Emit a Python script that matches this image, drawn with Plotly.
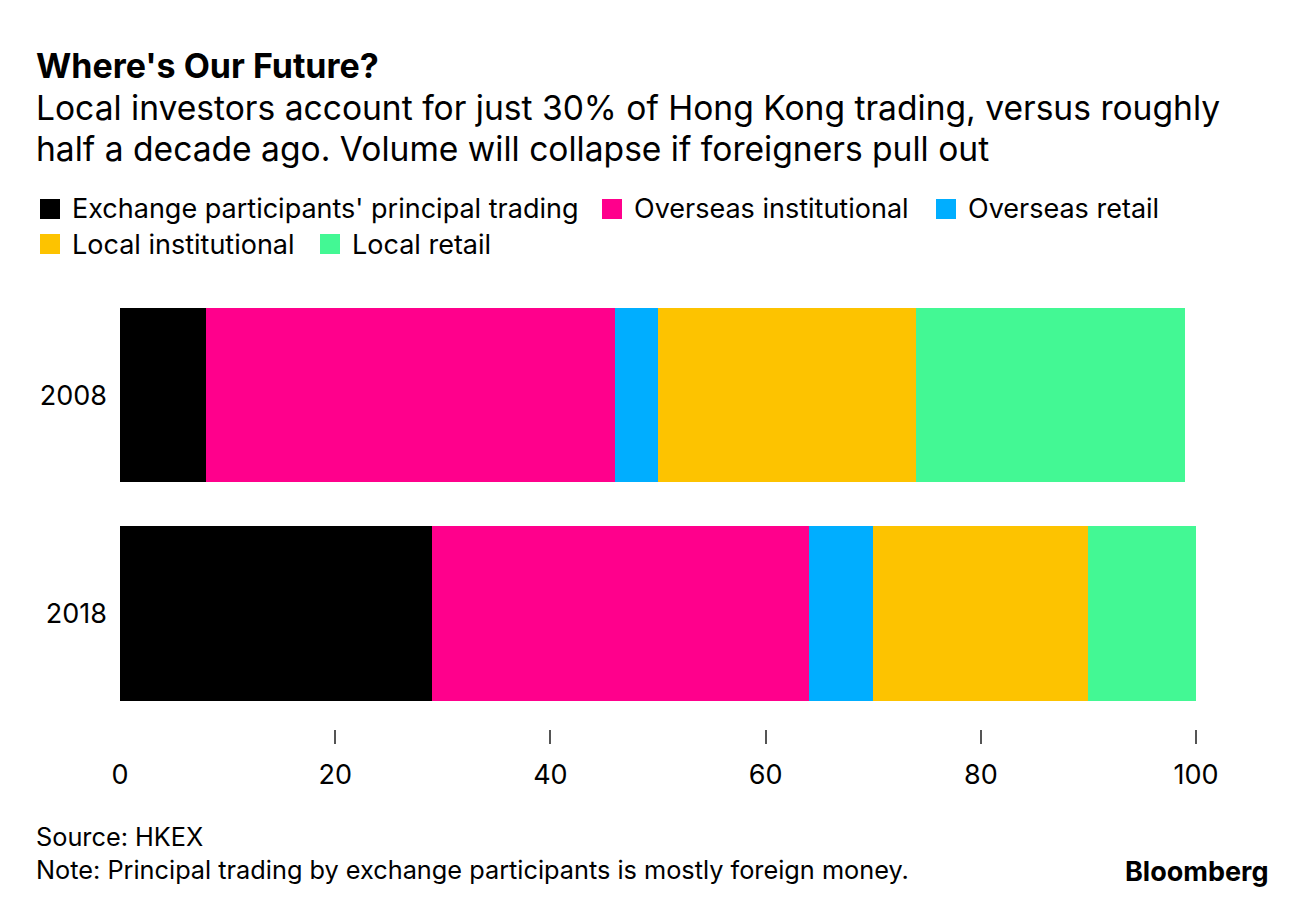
import plotly.graph_objects as go

# Data (share of HKEX turnover, %)
years = ['2008', '2018']
series = [
    'Exchange participants\' principal trading',
    'Overseas institutional',
    'Overseas retail',
    'Local institutional',
    'Local retail',
]
principal = [8, 29]
overseas_inst = [38, 35]
overseas_retail = [4, 6]
local_inst = [24, 20]
local_retail = [25, 10]
values = [principal, overseas_inst, overseas_retail, local_inst, local_retail]

x_ticks = [0, 20, 40, 60, 80, 100]
x_tick_marks = [20, 40, 60, 80, 100]

colors = ['#000000', '#FF008C', '#00AEFF', '#FDC300', '#43F894']
FONT = 'Inter, Liberation Sans, Arial, sans-serif'

# the page body adds an 8px margin, so the figure is 8px smaller and
# positions below are given in screenshot pixels and shifted back
OFF = 8
W, H = 1296 - OFF, 898 - OFF
PLOT_L, PLOT_R, PLOT_T, PLOT_B = 120, 1196, 286, 729
L, R = PLOT_L - OFF, W - (PLOT_R - OFF)
T, B = PLOT_T - OFF, H - (PLOT_B - OFF)
PW, PH = PLOT_R - PLOT_L, PLOT_B - PLOT_T


def px(x):
    return (x - PLOT_L) / PW


def py(y):
    return (PLOT_B - y) / PH


fig = go.Figure()
for name, vals, col in zip(series, values, colors):
    fig.add_trace(go.Bar(
        y=years, x=vals, name=name, orientation='h',
        marker=dict(color=col, line=dict(width=0)),
        showlegend=False,
    ))

annotations = []
shapes = []


def text(x, y, s, size, bold=False, xanchor='left', color='#000000'):
    if bold:
        s = '<b>' + s + '</b>'
    annotations.append(dict(
        x=px(x), y=py(y), xref='paper', yref='paper', text=s,
        showarrow=False, xanchor=xanchor, yanchor='middle', align=xanchor,
        font=dict(family=FONT, size=size, color=color),
    ))


# title block
text(34, 65, "Where's Our Future?", 34, bold=True)
text(34, 107, 'Local investors account for just 30% of Hong Kong trading, versus roughly', 33.6)
text(34, 148, 'half a decade ago. Volume will collapse if foreigners pull out', 33.6)

# legend (two rows)
legend_pos = [(40, 209), (602, 209), (936, 209), (40, 244), (320, 244)]
for name, col, (lx, ly) in zip(series, colors, legend_pos):
    shapes.append(dict(
        type='rect', xref='paper', yref='paper',
        x0=px(lx), x1=px(lx + 20), y0=py(ly + 10), y1=py(ly - 10),
        fillcolor=col, line=dict(width=0),
    ))
    text(lx + 30, ly, name, 27)

# footer
text(34, 836, 'Source: HKEX', 25.3)
text(34, 869, 'Note: Principal trading by exchange participants is mostly foreign money.', 25.3)
text(1270, 871, 'Bloomberg', 27, bold=True, xanchor='right')

fig.update_layout(
    barmode='stack',
    bargap=0.2,
    width=W, height=H,
    margin=dict(l=L, r=R, t=T, b=B),
    paper_bgcolor='white',
    plot_bgcolor='white',
    annotations=annotations,
    shapes=shapes,
    showlegend=False,
)

fig.update_xaxes(
    range=[0, 100],
    tickmode='array', tickvals=x_ticks,
    ticks='', showgrid=False, zeroline=False, showline=False,
    ticklabelstandoff=27,
    tickfont=dict(family=FONT, size=27, color='#000000'),
    minor=dict(tickmode='array', tickvals=x_tick_marks, ticks='outside',
               ticklen=14, tickwidth=1.5, tickcolor='#555555', showgrid=False),
)

fig.update_yaxes(
    type='category',
    range=[1.53, -0.5],
    ticks='', showgrid=False, zeroline=False, showline=False,
    ticklabelstandoff=12,
    tickfont=dict(family=FONT, size=27, color='#000000'),
)

fig.write_html('out.html')
